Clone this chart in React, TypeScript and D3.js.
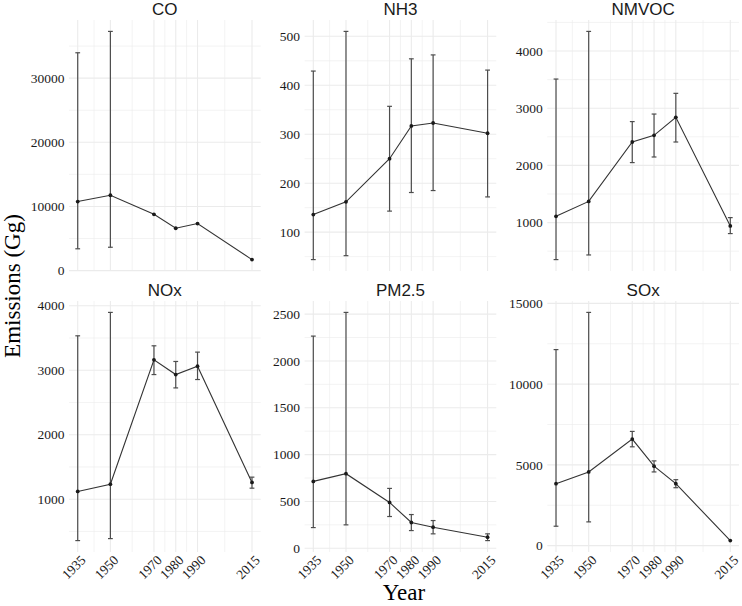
import React from "react";
import * as d3 from "d3";

const years = [1935, 1950, 1970, 1980, 1990, 2015];
const pollutants = ["CO", "NH3", "NMVOC", "NOx", "PM2.5", "SOx"];

// central estimates, Gg
const coValues = [10760, 11750, 8780, 6600, 7330, 1716];
const nh3Values = [136, 162, 250, 317, 323, 302];
const nmvocValues = [1110, 1370, 2409, 2526, 2841, 941];
const noxValues = [1120, 1233, 3161, 2933, 3063, 1260];
const pm25Values = [714, 796, 489, 275, 225, 118];
const soxValues = [3834, 4562, 6597, 4917, 3834, 311];

// uncertainty ranges (null = none drawn)
const coLower = [3400, 3640, null, null, null, null];
const coUpper = [33960, 37290, null, null, null, null];
const nh3Lower = [44, 52, 143, 181, 185, 172];
const nh3Upper = [429, 510, 357, 454, 462, 431];
const nmvocLower = [353, 434, 2049, 2147, 2409, 808];
const nmvocUpper = [3510, 4343, 2766, 2898, 3260, 1087];
const noxLower = [358, 389, 2933, 2726, 2856, 1171];
const noxUpper = [3534, 3897, 3379, 3136, 3281, 1342];
const pm25Lower = [221, 250, 339, 189, 154, 82];
const pm25Upper = [2265, 2518, 639, 360, 296, 154];
const soxLower = [1201, 1469, 6118, 4562, 3585, null];
const soxUpper = [12137, 14440, 7071, 5247, 4083, null];

const seriesValues = [coValues, nh3Values, nmvocValues, noxValues, pm25Values, soxValues];
const seriesLower = [coLower, nh3Lower, nmvocLower, noxLower, pm25Lower, soxLower];
const seriesUpper = [coUpper, nh3Upper, nmvocUpper, noxUpper, pm25Upper, soxUpper];

const W = 742;
const H = 606;
const colLeft = [69, 304.6, 547.3];
const panelW = 191.7;
const rowTop = [20, 301];
const panelH = 251;

const sans = "'Liberation Sans', Arial, sans-serif";
const serif = "'Liberation Serif', 'Times New Roman', serif";
const gridCol = "#ebebeb";

function Panel({ idx }: { idx: number }) {
  const col = idx % 3;
  const row = Math.floor(idx / 3);
  const left = colLeft[col];
  const top = rowTop[row];
  const vals = seriesValues[idx];
  const lo = seriesLower[idx];
  const hi = seriesUpper[idx];

  const xPad = (d3.max(years)! - d3.min(years)!) * 0.05;
  const x = d3
    .scaleLinear()
    .domain([d3.min(years)! - xPad, d3.max(years)! + xPad])
    .range([left, left + panelW]);

  const all: number[] = [...vals];
  lo.forEach((v) => v != null && all.push(v));
  hi.forEach((v) => v != null && all.push(v));
  const [mn, mx] = d3.extent(all) as [number, number];
  const yPad = (mx - mn) * 0.05;
  const y = d3
    .scaleLinear()
    .domain([mn - yPad, mx + yPad])
    .range([top + panelH, top]);

  const yTicks = y.ticks(4);
  const step = yTicks[1] - yTicks[0];
  const yMinor = [yTicks[0] - step / 2, ...yTicks.map((t) => t + step / 2)].filter(
    (t) => t >= y.domain()[0] && t <= y.domain()[1]
  );
  const xMinor = d3.pairs(years).map(([a, b]) => (a + b) / 2);

  const line = d3
    .line<number>()
    .x((_, i) => x(years[i]))
    .y((d) => y(d));

  const cap = 2.4;

  return (
    <g>
      {/* grid */}
      {yMinor.map((t) => (
        <line key={"ym" + t} x1={left} x2={left + panelW} y1={y(t)} y2={y(t)} stroke={gridCol} strokeWidth={0.6} />
      ))}
      {xMinor.map((t) => (
        <line key={"xm" + t} x1={x(t)} x2={x(t)} y1={top} y2={top + panelH} stroke={gridCol} strokeWidth={0.6} />
      ))}
      {yTicks.map((t) => (
        <line key={"y" + t} x1={left} x2={left + panelW} y1={y(t)} y2={y(t)} stroke={gridCol} strokeWidth={1.1} />
      ))}
      {years.map((t) => (
        <line key={"x" + t} x1={x(t)} x2={x(t)} y1={top} y2={top + panelH} stroke={gridCol} strokeWidth={1.1} />
      ))}

      {/* strip title */}
      <text x={left + panelW / 2} y={top - 5} textAnchor="middle" fontFamily={sans} fontSize={17} fill="#1a1a1a">
        {pollutants[idx]}
      </text>

      {/* y tick labels */}
      {yTicks.map((t) => (
        <text
          key={"yl" + t}
          x={left - 4.5}
          y={y(t)}
          dy="0.35em"
          textAnchor="end"
          fontFamily={serif}
          fontSize={13.5}
          fill="#1a1a1a"
        >
          {t}
        </text>
      ))}

      {/* x tick labels on bottom row */}
      {row === 1 &&
        years.map((t) => (
          <text
            key={"xl" + t}
            transform={`translate(${x(t) + 2},${top + panelH + 2}) rotate(-45)`}
            dy="0.72em"
            textAnchor="end"
            fontFamily={serif}
            fontSize={13.5}
            fill="#1a1a1a"
          >
            {t}
          </text>
        ))}

      {/* error bars */}
      {years.map((t, i) =>
        lo[i] != null && hi[i] != null ? (
          <g key={"e" + t} stroke="#4d4d4d" strokeWidth={1.2}>
            <line x1={x(t)} x2={x(t)} y1={y(lo[i] as number)} y2={y(hi[i] as number)} />
            <line x1={x(t) - cap} x2={x(t) + cap} y1={y(lo[i] as number)} y2={y(lo[i] as number)} />
            <line x1={x(t) - cap} x2={x(t) + cap} y1={y(hi[i] as number)} y2={y(hi[i] as number)} />
          </g>
        ) : null
      )}

      <path d={line(vals) || ""} fill="none" stroke="#333" strokeWidth={1.1} />
      {vals.map((v, i) => (
        <circle key={"p" + i} cx={x(years[i])} cy={y(v)} r={1.9} fill="#1a1a1a" />
      ))}
    </g>
  );
}

export default function App() {
  return (
    <svg
      width={W}
      height={H}
      style={{ position: "absolute", left: 0, top: 0, background: "#fff" }}
    >
      <rect width={W} height={H} fill="#fff" />
      {pollutants.map((p, i) => (
        <Panel key={p} idx={i} />
      ))}
      <text
        transform={`translate(20,${(rowTop[0] + rowTop[1] + panelH) / 2}) rotate(-90)`}
        textAnchor="middle"
        fontFamily={serif}
        fontSize={23}
        fill="#000"
      >
        Emissions (Gg)
      </text>
      <text x={(colLeft[0] + colLeft[2] + panelW) / 2} y={600} textAnchor="middle" fontFamily={serif} fontSize={23} fill="#000">
        Year
      </text>
    </svg>
  );
}
